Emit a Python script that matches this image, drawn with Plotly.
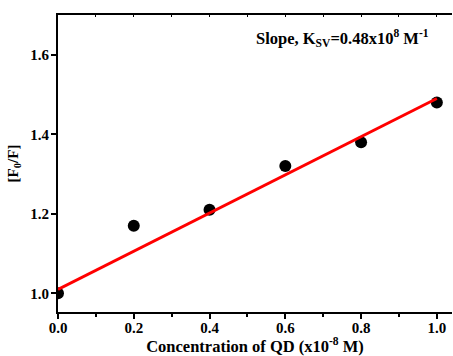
import plotly.graph_objects as go

conc = [0.0, 0.2, 0.4, 0.6, 0.8, 1.0]
f0_f = [1.0, 1.17, 1.21, 1.32, 1.38, 1.48]
fit_x = [0.0, 1.0]
fit_slope = 0.48
fit_intercept = 1.01
fit_y = [fit_intercept + fit_slope * x for x in fit_x]
x_ticks = [0.0, 0.2, 0.4, 0.6, 0.8, 1.0]
x_ticklabels = ["0.0", "0.2", "0.4", "0.6", "0.8", "1.0"]
y_ticks = [1.0, 1.2, 1.4, 1.6]
y_ticklabels = ["1.0", "1.2", "1.4", "1.6"]

FONT = "Liberation Serif"

fig = go.Figure()
fig.add_trace(go.Scatter(x=conc, y=f0_f, mode="markers",
                         marker=dict(color="black", size=12), showlegend=False))
fig.add_trace(go.Scatter(x=fit_x, y=fit_y, mode="lines",
                         line=dict(color="#ff0000", width=3), showlegend=False))
# invisible trace to activate top axis
fig.add_trace(go.Scatter(x=conc, y=f0_f, mode="markers", xaxis="x2",
                         marker=dict(opacity=0), showlegend=False, hoverinfo="skip"))

fig.update_layout(
    width=453, height=356,
    margin=dict(l=58, r=1, t=15, b=44, autoexpand=False),
    paper_bgcolor="white", plot_bgcolor="white",
    font=dict(family=FONT, color="black"),
    xaxis=dict(range=[0, 1.04], tickvals=x_ticks, ticktext=x_ticklabels,
               ticks="outside", ticklen=5, tickwidth=2, tickcolor="black",
               showline=True, linecolor="black", linewidth=2, showgrid=False,
               zeroline=False, automargin=False, ticklabelstandoff=-4,
               tickfont=dict(family=FONT, size=15, color="black", weight="bold"),
               minor=dict(tickvals=[0.1, 0.3, 0.5, 0.7, 0.9], ticks="outside",
                          ticklen=3, tickwidth=1.5, tickcolor="black"),
               title=dict(text="Concentration of QD (x10<sup>-8</sup> M)",
                          font=dict(family=FONT, size=16.5, color="black", weight="bold"),
                          standoff=0)),
    xaxis2=dict(overlaying="x", side="top", matches="x", range=[0, 1.04],
                tickvals=[0.1, 0.2, 0.3, 0.4, 0.5, 0.6, 0.7, 0.8, 0.9, 1.0],
                ticks="inside", ticklen=2, tickwidth=1, tickcolor="black",
                showticklabels=False, showline=True, linecolor="black",
                linewidth=2, showgrid=False, zeroline=False, automargin=False),
    yaxis=dict(range=[0.953, 1.70], tickvals=y_ticks, ticktext=y_ticklabels,
               ticks="outside", ticklen=5, tickwidth=2, tickcolor="black",
               showline=True, linecolor="black", linewidth=2, showgrid=False,
               zeroline=False, automargin=False, ticklabelstandoff=-1,
               tickfont=dict(family=FONT, size=15, color="black", weight="bold"),
               title=dict(text="[F<sub>0</sub>/F]",
                          font=dict(family=FONT, size=15, color="black", weight="bold"),
                          standoff=8)),
    annotations=[dict(x=0.75, y=1.642, xref="x", yref="y",
                      text="Slope, K<sub>SV</sub>=0.48x10<sup>8</sup> M<sup>-1</sup>",
                      showarrow=False,
                      font=dict(family=FONT, size=16.5, color="black", weight="bold"))],
)

fig.write_html("out.html", config={"displayModeBar": False},
               post_script="document.body.style.margin='0';document.body.style.overflow='hidden';")
